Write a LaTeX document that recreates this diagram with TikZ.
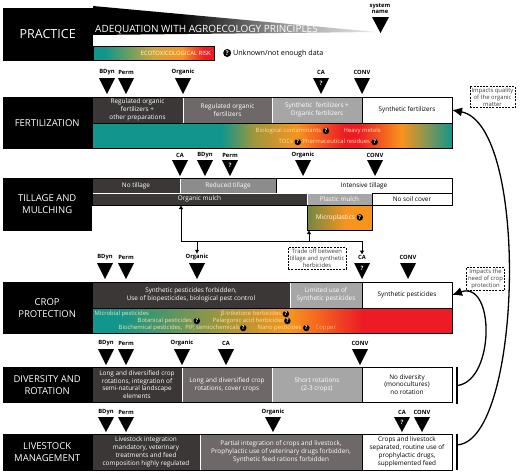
\documentclass[tikz,border=0pt]{standalone}
\usepackage{fontspec}
\setmainfont{Open Sans}
\usetikzlibrary{positioning, arrows.meta, calc}

\definecolor{cellDark}{RGB}{59,55,55}
\definecolor{cellMid}{RGB}{110,104,104}
\definecolor{cellGrey}{RGB}{140,140,140}
\definecolor{cellLight}{RGB}{166,166,166}
\definecolor{riskTeal}{RGB}{18,150,140}
\definecolor{riskGreen}{RGB}{90,150,100}
\definecolor{riskOlive}{RGB}{160,150,60}
\definecolor{riskGold}{RGB}{205,165,55}
\definecolor{riskOrange}{RGB}{247,148,30}
\definecolor{riskRed}{RGB}{237,28,36}
\definecolor{microOlive}{RGB}{115,135,65}
\definecolor{riskText}{RGB}{255,225,160}
\definecolor{copperText}{RGB}{255,185,100}
\definecolor{headGrey}{RGB}{150,150,150}
\definecolor{headLight}{RGB}{235,235,235}

\pgfdeclarehorizontalshading{headgrad}{100bp}{color(0bp)=(black); color(25bp)=(black); color(40bp)=(black); color(58bp)=(headGrey); color(75bp)=(headLight); color(100bp)=(headLight)}
\pgfdeclarehorizontalshading{ecograd}{100bp}{color(0bp)=(riskTeal); color(30bp)=(riskTeal); color(50bp)=(riskGold); color(62bp)=(riskOrange); color(71bp)=(riskRed); color(100bp)=(riskRed)}
\pgfdeclarehorizontalshading{fertgrad}{100bp}{color(0bp)=(riskTeal); color(43bp)=(riskTeal); color(47.5bp)=(riskOlive); color(53.5bp)=(riskOrange); color(60bp)=(riskRed); color(62bp)=(riskRed); color(68bp)=(riskOrange); color(75bp)=(riskTeal); color(100bp)=(riskTeal)}
\pgfdeclarehorizontalshading{cropgrad}{100bp}{color(0bp)=(riskTeal); color(29bp)=(riskTeal); color(36bp)=(riskGreen); color(43bp)=(riskOlive); color(52.5bp)=(riskOrange); color(62.5bp)=(riskRed); color(100bp)=(riskRed)}
\pgfdeclarehorizontalshading{micrograd}{100bp}{color(0bp)=(microOlive); color(25bp)=(microOlive); color(55bp)=(riskOrange); color(100bp)=(riskOrange)}

\newcommand{\qmark}{\tikz[baseline=(qm.base)]\node[qcircle] (qm) {?};}

\begin{document}
\begin{tikzpicture}[
    x=1pt, y=-1pt,
    node distance=0pt,
    labelbox/.style={fill=black, draw=black, text=white, anchor=north west, minimum width=88, inner sep=0, align=center, font=\fontsize{9.5}{12}\selectfont},
    cell/.style={line width=0.5pt, align=center, inner sep=0, outer sep=0, font=\fontsize{6.4}{7.8}\selectfont},
    darkcell/.style={cell, draw=white, fill=cellDark, text=white},
    midcell/.style={cell, draw=white, fill=cellMid, text=white},
    greycell/.style={cell, draw=white, fill=cellGrey, text=white},
    lightcell/.style={cell, draw=white, fill=cellLight, text=white},
    whitecell/.style={cell, draw=black, fill=white, text=black},
    riskbar/.style={shade, draw=black, anchor=north west, inner sep=0, outer sep=0},
    risktext/.style={text=riskText, anchor=west, inner sep=0.5pt, font=\fontsize{5.9}{7}\selectfont},
    syslabel/.style={font=\bfseries\fontsize{5.8}{6.5}\selectfont, inner sep=0, align=center},
    qin/.style={text=white, font=\bfseries\fontsize{6}{6}\selectfont, inner sep=0},
    qcircle/.style={circle, fill=black, text=white, inner sep=0, minimum size=6.5pt, font=\bfseries\fontsize{5.5}{5.5}\selectfont},
    note/.style={draw, dash pattern=on 2pt off 1.2pt, line width=0.7pt, fill=white, align=center, inner sep=1.5pt, text=black!75, font=\fontsize{5.9}{7}\selectfont},
    rowbar/.style={fill=black, minimum width=1.4pt, inner sep=0, outer sep=0, anchor=north},
    frame/.style={draw=black, line width=0.6pt},
    link/.style={draw, line width=0.8pt, -{Latex[length=4pt,width=4.5pt]}},
    impact/.style={draw, line width=1.3pt, -{Latex[length=10pt,width=9pt]}}
]
\useasboundingbox (0,0) rectangle (520,472);

% Header
\node[labelbox, minimum width=89, minimum height=52, font=\fontsize{12.5}{14}\selectfont] (practice) at (3,8) {PRACTICE};
\shade[shading=headgrad] (93,6) -- (377,32) -- (93,35) -- cycle;
\node[anchor=west, text=white, inner sep=0, font=\fontsize{10}{11}\selectfont] (adequation) at (95,29.5) {ADEQUATION WITH AGROECOLOGY PRINCIPLES};
\node[riskbar, shading=ecograd, minimum width=121, minimum height=14] (ecorisk) at (93,46) {};
\node[anchor=east, text=white, inner sep=0, font=\fontsize{5.9}{7}\selectfont] (ecorisk-text) at ($(ecorisk.east)+(-3,0)$) {ECOTOXICOLOGICAL RISK};
\node[anchor=west, inner sep=0, font=\fontsize{7.2}{8}\selectfont] (unknown) at (223,53) {\tikz[baseline=(qm.base)]\node[qcircle, minimum size=8pt, font=\bfseries\fontsize{6.5}{6.5}\selectfont] (qm) {?};\ Unknown/not enough data};
\fill (372,17) -- (389,17) -- (380.5,33) -- cycle;
\node[syslabel] (sysname) at (380,8.5) {system\\name};

% Fertilization
\foreach \x/\sys/\q in {107/BDyn/{}, 126/Perm/{}, 183/Organic/{}, 321/CA/?, 362/CONV/{}} {
  \fill (\x-8,78) -- (\x+8,78) -- (\x,94) -- cycle;
  \node[syslabel] (fert-\sys) at (\x,72) {\sys};
  \node[qin] at (\x,83.5) {\q};
}
\node[labelbox, minimum height=51] (fert-label) at (3,97) {FERTILIZATION};
\node[darkcell, minimum width=91, minimum height=26, anchor=north west] (fert-c1) at (92,97) {Regulated organic\\fertilizers +\\other preparations};
\node[midcell, minimum width=89, minimum height=26, right=of fert-c1] (fert-c2) {Regulated organic\\fertilizers};
\node[lightcell, minimum width=90, minimum height=26, right=of fert-c2] (fert-c3) {Synthetic\ \ fertilizers +\\Organic fertilizers};
\node[whitecell, minimum width=90, minimum height=26, right=of fert-c3] (fert-c4) {Synthetic fertilizers};
\node[riskbar, shading=fertgrad, minimum width=360, minimum height=25] (fert-risk) at (92,123) {};
\node[risktext] (fert-bio) at (255,131) {Biological contaminants \qmark};
\node[risktext] (fert-hm) at (343,131) {Heavy metals};
\node[risktext] (fert-toc) at (278,142) {TOCs \qmark\ Pharmaceutical residues \qmark};
\draw[frame] (fert-c1.north west) rectangle (fert-risk.south east);

% Tillage and mulching
\foreach \x/\sys/\q in {180/CA/{}, 205/BDyn/{}, 230/Perm/?, 303/Organic/{}, 375/CONV/{}} {
  \fill (\x-8,160) -- (\x+8,160) -- (\x,176) -- cycle;
  \node[syslabel] (till-\sys) at (\x,155) {\sys};
  \node[qin] at (\x,165.5) {\q};
}
\node[labelbox, minimum height=52] (till-label) at (3,178) {TILLAGE AND\\MULCHING};
\node[darkcell, minimum width=88, minimum height=15, anchor=north west] (till-no) at (92,178) {No tillage};
\node[greycell, minimum width=96, minimum height=15, right=of till-no] (till-red) {Reduced tillage};
\node[whitecell, minimum width=176, minimum height=15, right=of till-red] (till-int) {Intensive tillage};
\node[darkcell, minimum width=215, minimum height=12, anchor=north west] (mulch-org) at (92,193) {Organic mulch};
\node[lightcell, minimum width=65, minimum height=12, right=of mulch-org] (mulch-pl) {Plastic mulch};
\node[whitecell, minimum width=80, minimum height=12, right=of mulch-pl] (mulch-no) {No soil cover};
\node[riskbar, shading=micrograd, minimum width=65, minimum height=25, text=white, font=\fontsize{6.4}{7.8}\selectfont] (micro) at (307,205) {Microplastics \qmark};
\draw[frame] (till-no.north west) rectangle (mulch-no.south east);

% Trade off links
\node[note] (note-trade) at (317,258.5) {Trade off between\\tillage and synthetic\\herbicides};
\coordinate (trade-start) at (181,241);
\coordinate (trade-mp) at (309,241);

% Crop protection
\foreach \x/\sys/\q in {105/BDyn/{}, 126/Perm/{}, 197/Organic/{}, 362/CA/?, 408/CONV/{}} {
  \fill (\x-8,263) -- (\x+8,263) -- (\x,279) -- cycle;
  \node[syslabel] (crop-\sys) at (\x,257) {\sys};
  \node[qin] at (\x,268.5) {\q};
}
\draw[line width=0.8pt] (trade-start) -- (crop-CA |- trade-start);
\draw[link] (trade-start) -- (trade-start |- mulch-org.south);
\draw[link] (trade-mp) -- (trade-mp |- micro.south);
\draw[link] (crop-Organic |- trade-start) -- (crop-Organic.north);
\draw[link] (crop-CA |- trade-start) -- (crop-CA.north);

\node[labelbox, minimum height=51] (crop-label) at (3,282) {CROP\\PROTECTION};
\node[darkcell, minimum width=198, minimum height=26, anchor=north west] (crop-c1) at (92,282) {Synthetic pesticides forbidden,\\Use of biopesticides, biological pest control};
\node[lightcell, minimum width=72, minimum height=26, right=of crop-c1] (crop-c2) {Limited use of\\Synthetic pesticides};
\node[whitecell, minimum width=90, minimum height=26, right=of crop-c2] (crop-c3) {Synthetic pesticides};
\node[riskbar, shading=cropgrad, minimum width=360, minimum height=25] (crop-risk) at (92,308) {};
\node[risktext] (crop-mic) at (94,314) {Microbial pesticides};
\node[risktext] (crop-tri) at (220,314) {β-triketone herbicides \qmark};
\node[risktext] (crop-bot) at (137,321) {Botanical pesticides \qmark};
\node[risktext] (crop-pel) at (212,321) {Pelargonic acid herbicides\qmark};
\node[risktext] (crop-bio) at (118,328) {Biochemical pesticides,\ \ PIP, semiochemicals\qmark};
\node[risktext] (crop-nano) at (257,328) {Nano pesticides \qmark};
\node[risktext, text=copperText] (crop-cu) at (315,328) {Copper};
\draw[frame] (crop-c1.north west) rectangle (crop-risk.south east);

% Diversity and rotation
\foreach \x/\sys/\q in {106/BDyn/{}, 126/Perm/{}, 182/Organic/{}, 226/CA/{}, 360/CONV/{}} {
  \fill (\x-8,349) -- (\x+8,349) -- (\x,365) -- cycle;
  \node[syslabel] (div-\sys) at (\x,343) {\sys};
}
\node[labelbox, minimum height=35] (div-label) at (3,367) {DIVERSITY AND\\ROTATION};
\node[darkcell, minimum width=90, minimum height=35, anchor=north west] (div-c1) at (92,367) {Long and diversified crop\\rotations, integration of\\semi-natural landscape\\elements};
\node[midcell, minimum width=90, minimum height=35, right=of div-c1] (div-c2) {Long and diversified crop\\rotations, cover crops};
\node[lightcell, minimum width=90, minimum height=35, right=of div-c2] (div-c3) {Short rotations\\(2-3 crops)};
\node[whitecell, minimum width=90, minimum height=35, right=of div-c3] (div-c4) {No diversity\\(monocultures)\\no rotation};
\draw[frame] (div-c1.north west) rectangle (div-c4.south east);
\node[rowbar, minimum height=37] (div-bar) at (457,367) {};

% Livestock management
\foreach \x/\sys/\q in {106/BDyn/{}, 126/Perm/{}, 273/Organic/{}, 402/CA/?, 422/CONV/{}} {
  \fill (\x-8,417) -- (\x+8,417) -- (\x,432) -- cycle;
  \node[syslabel] (live-\sys) at (\x,412) {\sys};
  \node[qin] at (\x,422) {\q};
}
\node[labelbox, minimum height=36] (live-label) at (3,434) {LIVESTOCK\\MANAGEMENT};
\node[darkcell, minimum width=108, minimum height=36, anchor=north west] (live-c1) at (92,434) {Livestock integration\\mandatory, veterinary\\treatments and feed\\composition highly regulated};
\node[midcell, minimum width=162, minimum height=36, right=of live-c1] (live-c2) {Partial integration of crops and livestock,\\Prophylactic use of veterinary drugs forbidden,\\Synthetic feed rations forbidden};
\node[whitecell, minimum width=90, minimum height=36, right=of live-c2] (live-c3) {Crops and livestock\\separated, routine use of\\prophylactic drugs,\\supplemented feed};
\draw[frame] (live-c1.north west) rectangle (live-c3.south east);
\node[rowbar, minimum height=36] (live-bar) at (457,434) {};

% Impacts
\node[note] (note-om) at (492.5,97) {Impacts quality\\of the organic\\matter};
\node[note] (note-cp) at (485.5,279) {Impacts the\\need of crop\\protection};
\coordinate (live-hook) at ($(live-bar.north east)!0.3!(live-bar.south east)$);
\draw[impact] (div-bar.east) .. controls (495,380) and (495,280) .. (crop-c3.east);
\draw[impact] (live-hook) .. controls (522,440) and (530,125) .. (fert-c4.east);

\end{tikzpicture}
\end{document}
